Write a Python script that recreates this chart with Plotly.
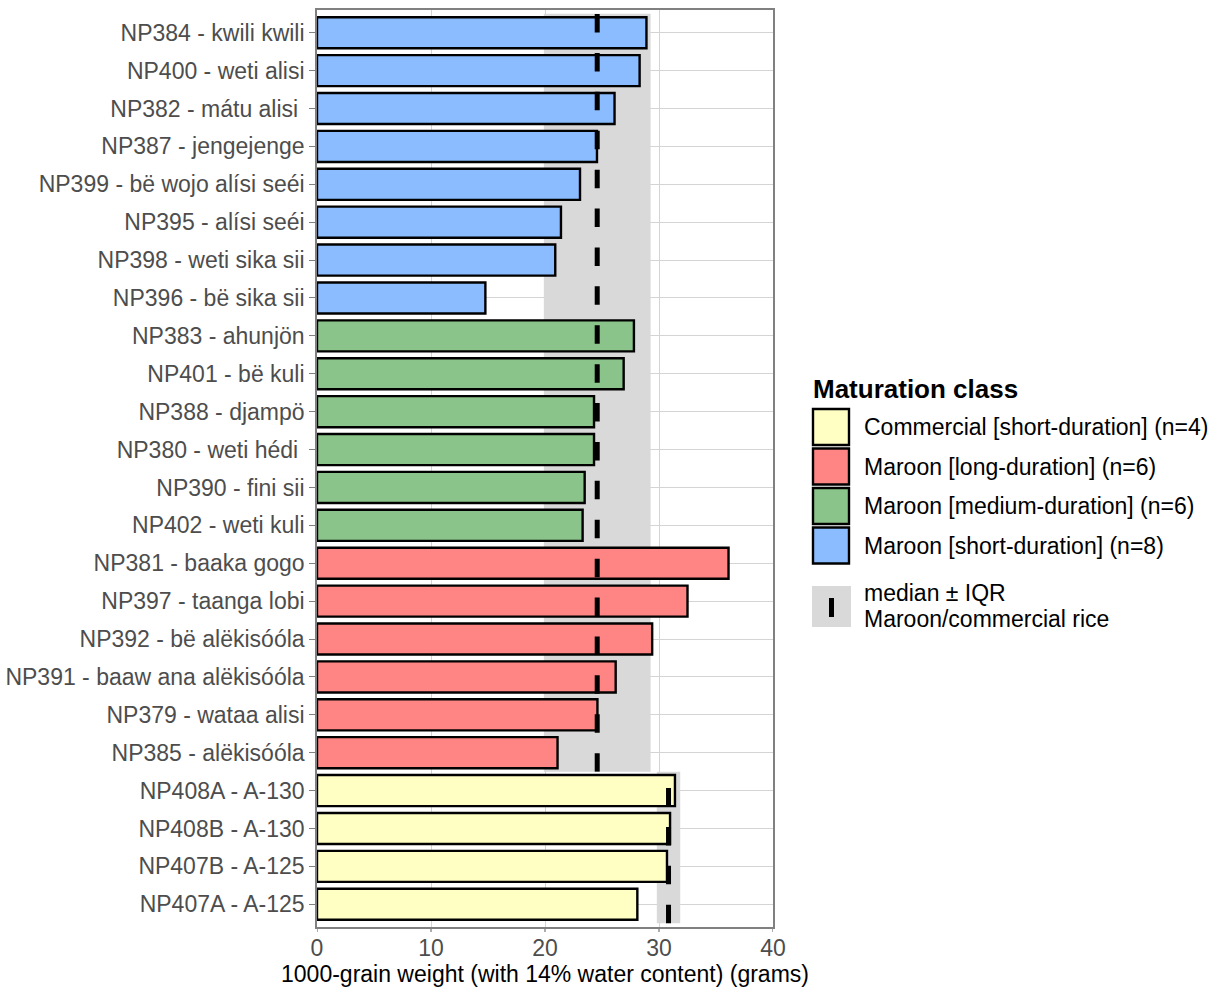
import numpy as np
import plotly.graph_objects as go

# 1000-grain weight (grams, 14% water content) per accession, grouped by maturation class
short_labels = ["NP384 - kwili kwili", "NP400 - weti alisi", "NP382 - mátu alisi\u00a0",
                "NP387 - jengejenge", "NP399 - bë wojo alísi seéi", "NP395 - alísi seéi",
                "NP398 - weti sika sii", "NP396 - bë sika sii"]
short_values = [28.9, 28.3, 26.1, 24.56, 23.07, 21.4, 20.9, 14.77]

medium_labels = ["NP383 - ahunjön", "NP401 - bë kuli", "NP388 - djampö",
                 "NP380 - weti hédi\u00a0", "NP390 - fini sii", "NP402 - weti kuli"]
medium_values = [27.8, 26.9, 24.3, 24.3, 23.48, 23.3]

long_labels = ["NP381 - baaka gogo", "NP397 - taanga lobi", "NP392 - bë alëkisóóla",
               "NP391 - baaw ana alëkisóóla", "NP379 - wataa alisi", "NP385 - alëkisóóla"]
long_values = [36.1, 32.5, 29.4, 26.2, 24.6, 21.1]

commercial_labels = ["NP408A - A-130", "NP408B - A-130", "NP407B - A-125", "NP407A - A-125"]
commercial_values = [31.4, 30.97, 30.7, 28.1]

class_names = ["Commercial [short-duration] (n=4)", "Maroon [long-duration] (n=6)",
               "Maroon [medium-duration] (n=6)", "Maroon [short-duration] (n=8)"]
class_colors = ["#FFFFC4", "#FF8585", "#8AC48A", "#8ABCFF"]

x_ticks = [0, 10, 20, 30, 40]

# ---- row layout: top row is drawn highest ----
groups = [
    (short_labels, short_values, class_colors[3]),
    (medium_labels, medium_values, class_colors[2]),
    (long_labels, long_values, class_colors[1]),
    (commercial_labels, commercial_values, class_colors[0]),
]
all_labels = [lab for g in groups for lab in g[0]]
n_rows = len(all_labels)
row_pos = {lab: n_rows - 1 - i for i, lab in enumerate(all_labels)}

FONT = "Liberation Sans, Arial, sans-serif"
FS = 23
GRID = "#D4D4D4"
FRAME = "#808080"

fig = go.Figure()

# bars
for labels, values, color in groups:
    fig.add_trace(go.Bar(
        orientation="h",
        x=values,
        y=[row_pos[l] for l in labels],
        width=0.82,
        marker=dict(color=color, line=dict(color="black", width=2.4)),
        showlegend=False,
    ))

# median ± IQR bands and dashed median lines
maroon_values = np.array(short_values + medium_values + long_values)
commercial_arr = np.array(commercial_values)


def med_iqr(v):
    q1, med, q3 = np.percentile(v, [25, 50, 75])
    return med, q3 - q1


n_com = len(commercial_values)
spans = [
    (maroon_values, n_com - 0.5, n_rows - 0.5),
    (commercial_arr, -0.5, n_com - 0.5),
]
for vals, y0, y1 in spans:
    med, iqr = med_iqr(vals)
    fig.add_shape(type="rect", xref="x", yref="y", x0=med - iqr, x1=med + iqr,
                  y0=y0, y1=y1, fillcolor="#D9D9D9", line=dict(width=0), layer="between")
    fig.add_trace(go.Scatter(
        x=[med, med], y=[y0, y1], mode="lines",
        line=dict(color="black", width=5, dash="18.5px,20.4px"),
        showlegend=False, hoverinfo="skip",
    ))

# ---- layout ----
L, R, T, B = 317, 446, 10, 61
W, H = 1219, 988
pw, ph = W - L - R, H - T - B

fig.update_layout(
    width=W, height=H,
    margin=dict(l=L, r=R, t=T, b=B),
    plot_bgcolor="white", paper_bgcolor="white",
    font=dict(family=FONT, size=FS, color="black"),
    barmode="overlay",
    showlegend=False,
)
fig.update_xaxes(
    range=[0, 40], tickvals=x_ticks, ticktext=[str(t) for t in x_ticks],
    automargin=False,
    showgrid=True, gridcolor=GRID, gridwidth=1.3, zeroline=False,
    showline=True, mirror=True, linecolor=FRAME, linewidth=1.6,
    ticks="",
    tickfont=dict(family=FONT, size=FS, color="#4D4D4D"),
    title=dict(text="1000-grain weight (with 14% water content) (grams)",
               font=dict(family=FONT, size=FS, color="black"), standoff=2),
)
fig.update_yaxes(
    range=[-0.6, n_rows - 0.4],
    tickvals=[row_pos[l] for l in all_labels], ticktext=all_labels,
    automargin=False,
    showgrid=True, gridcolor=GRID, gridwidth=1.3, zeroline=False,
    showline=True, mirror=True, linecolor=FRAME, linewidth=1.6,
    ticks="outside", ticklen=6, tickcolor=FRAME, tickwidth=1.3,
    tickfont=dict(family=FONT, size=FS, color="#4D4D4D"),
)

# short outside tick marks under the x axis
for t in x_ticks:
    fig.add_shape(type="line", xref="x", yref="paper", x0=t, x1=t,
                  y0=0, y1=-5 / ph, line=dict(color=FRAME, width=1.3))


# ---- legend drawn in paper space ----
def px(xp):
    return (xp - L) / pw


def py(yp):
    return (H - B - yp) / ph


fig.add_annotation(x=px(811), y=py(389), xref="paper", yref="paper",
                   text="<b>Maturation class</b>", showarrow=False,
                   xanchor="left", yanchor="middle",
                   font=dict(family=FONT, size=26, color="black"))

key_top = 408
key_step = 39.5
for i, (name, color) in enumerate(zip(class_names, class_colors)):
    top = key_top + i * key_step
    fig.add_shape(type="rect", xref="paper", yref="paper",
                  x0=px(813), x1=px(849), y0=py(top + 37), y1=py(top + 1),
                  fillcolor=color, line=dict(color="black", width=2.4))
    fig.add_annotation(x=px(862), y=py(top + 19), xref="paper", yref="paper",
                       text=name, showarrow=False, xanchor="left", yanchor="middle",
                       font=dict(family=FONT, size=FS, color="black"))

fig.add_shape(type="rect", xref="paper", yref="paper",
              x0=px(812), x1=px(851), y0=py(627), y1=py(586),
              fillcolor="#D9D9D9", line=dict(width=0))
fig.add_shape(type="line", xref="paper", yref="paper",
              x0=px(831.5), x1=px(831.5), y0=py(617), y1=py(598),
              line=dict(color="black", width=5))
fig.add_annotation(x=px(862), y=py(593), xref="paper", yref="paper",
                   text="median ± IQR", showarrow=False, xanchor="left", yanchor="middle",
                   font=dict(family=FONT, size=FS, color="black"))
fig.add_annotation(x=px(862), y=py(619), xref="paper", yref="paper",
                   text="Maroon/commercial rice", showarrow=False, xanchor="left",
                   yanchor="middle", font=dict(family=FONT, size=FS, color="black"))

fig.write_html("out.html")
